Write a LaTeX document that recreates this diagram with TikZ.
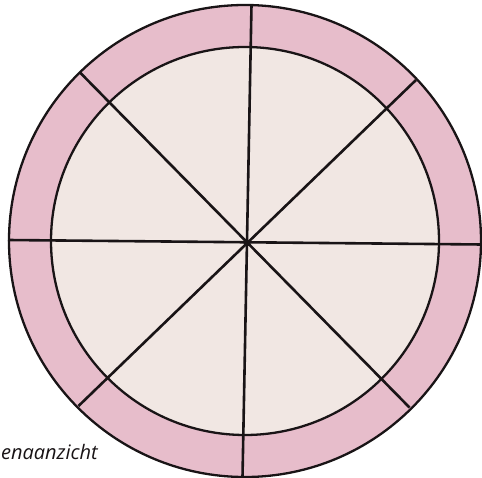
\documentclass[tikz,border=0pt]{standalone}
\usepackage{fontspec}
\setmainfont{Open Sans}
\definecolor{ringpink}{RGB}{231,189,203}
\definecolor{innerfill}{RGB}{241,231,227}
\definecolor{inkline}{RGB}{25,20,22}
\tikzset{
  ring/.style={draw=inkline, line width=2.3pt},
  spoke/.style={draw=inkline, line width=2.6pt},
  caption/.style={font=\itshape\fontsize{20}{24}\selectfont, text=inkline, inner sep=0pt}
}
\begin{document}
\begin{tikzpicture}[x=1pt,y=-1pt]
\useasboundingbox (0,0) rectangle (482,478);
\coordinate (c) at (245,241);
\fill[ringpink] (c) circle (236);
\fill[innerfill] (c) circle (194);
% spokes (end points on the outer circle)
\coordinate (n) at (251.5,5);
\coordinate (s) at (242.5,477);
\coordinate (w) at (8,240);
\coordinate (e) at (482,244.5);
\coordinate (nw) at (80,72.5);
\coordinate (se) at (409.5,407.5);
\coordinate (ne) at (416,80);
\coordinate (sw) at (78.5,406);
\draw[spoke] (n) -- (s);
\draw[spoke] (w) -- (e);
\draw[spoke] (nw) -- (se);
\draw[spoke] (ne) -- (sw);
\draw[ring] (c) circle (236);
\draw[ring] (c) circle (194);
\fill[inkline] (247,243) circle (3.5);
\node[caption, anchor=base east] (cap) at (98,459) {enaanzicht};
\end{tikzpicture}
\end{document}
